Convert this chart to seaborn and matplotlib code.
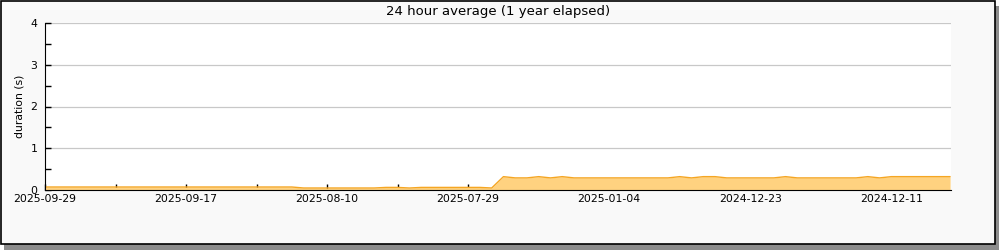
import numpy as np
import pandas as pd
import matplotlib
matplotlib.use("Agg")
import matplotlib.pyplot as plt
import seaborn as sns
from matplotlib.patches import Rectangle
from matplotlib.ticker import MultipleLocator, FixedLocator

title = "24 hour average (1 year elapsed)"
y_label = "duration (s)"
tick_labels = ["2025-09-29", "2025-09-17", "2025-08-10", "2025-07-29",
               "2025-01-04", "2024-12-23", "2024-12-11"]
durations = (
    [0.072] * 22 +                      # 0..21
    [0.048] * 7 +                       # 22..28
    [0.062] * 2 +                       # 29..30
    [0.048] +                           # 31
    [0.062] * 6 +                       # 32..37
    [0.048] +                           # 38
    [0.32, 0.29, 0.29, 0.32, 0.29, 0.32] +   # 39..44
    [0.29] * 9 +                        # 45..53
    [0.32, 0.29, 0.32, 0.32] +          # 54..57
    [0.29] * 5 +                        # 58..62
    [0.32] +                            # 63
    [0.29] * 6 +                        # 64..69
    [0.32, 0.29] +                      # 70..71
    [0.32] * 6                          # 72..77
)

df = pd.DataFrame({"idx": np.arange(len(durations)), "duration": durations})

sns.set_style("ticks")
plt.rcParams["font.family"] = ["DejaVu Sans"]
plt.rcParams["text.color"] = "black"
plt.rcParams["axes.labelcolor"] = "black"

fig = plt.figure(figsize=(10, 2.5), dpi=100, facecolor="white")
# frame with shadow
fig.patches.append(Rectangle((0.004, 0.0), 0.995, 0.975, transform=fig.transFigure,
                             facecolor="#8c8c8c", edgecolor="none", zorder=-3))
fig.patches.append(Rectangle((0.0005, 0.024), 0.9945, 0.974, transform=fig.transFigure,
                             facecolor="#f9f9f9", edgecolor="black", linewidth=1.2, zorder=-2))

ax = fig.add_axes([0.045, 0.24, 0.9057, 0.668])
ax.set_facecolor("white")

ax.fill_between(df["idx"], 0, df["duration"], color="#ffd280", linewidth=0, zorder=2)
sns.lineplot(data=df, x="idx", y="duration", ax=ax, color="#f5a623", linewidth=1.0, zorder=3)

ax.set_xlim(0, 77.05)
ax.set_ylim(0, 4)

ax.xaxis.set_major_locator(FixedLocator(np.arange(0, 73, 12)))
ax.set_xticklabels(tick_labels)
ax.xaxis.set_minor_locator(FixedLocator(np.arange(6, 77, 12)))
ax.yaxis.set_major_locator(MultipleLocator(1))
ax.yaxis.set_minor_locator(MultipleLocator(0.5))

ax.tick_params(axis="both", which="both", direction="in", length=4.5, width=1, colors="black",
               labelsize=7.8)
ax.tick_params(axis="x", which="major", pad=3)
ax.tick_params(axis="y", which="major", pad=5.5)

ax.grid(axis="y", which="major", color="#c8c8c8", linewidth=0.9, zorder=0)
ax.set_axisbelow(True)

for side in ["top", "right"]:
    ax.spines[side].set_visible(False)
ax.spines["left"].set_color("black")
ax.spines["bottom"].set_color("black")
ax.spines["left"].set_zorder(5)
ax.spines["bottom"].set_zorder(5)

ax.set_xlabel("")
ax.set_ylabel(y_label, fontsize=7.8, labelpad=4, color="black")
ax.set_title(title, fontsize=9.5, pad=6, color="black")

fig.savefig("out.png", dpi=100, facecolor="white")
